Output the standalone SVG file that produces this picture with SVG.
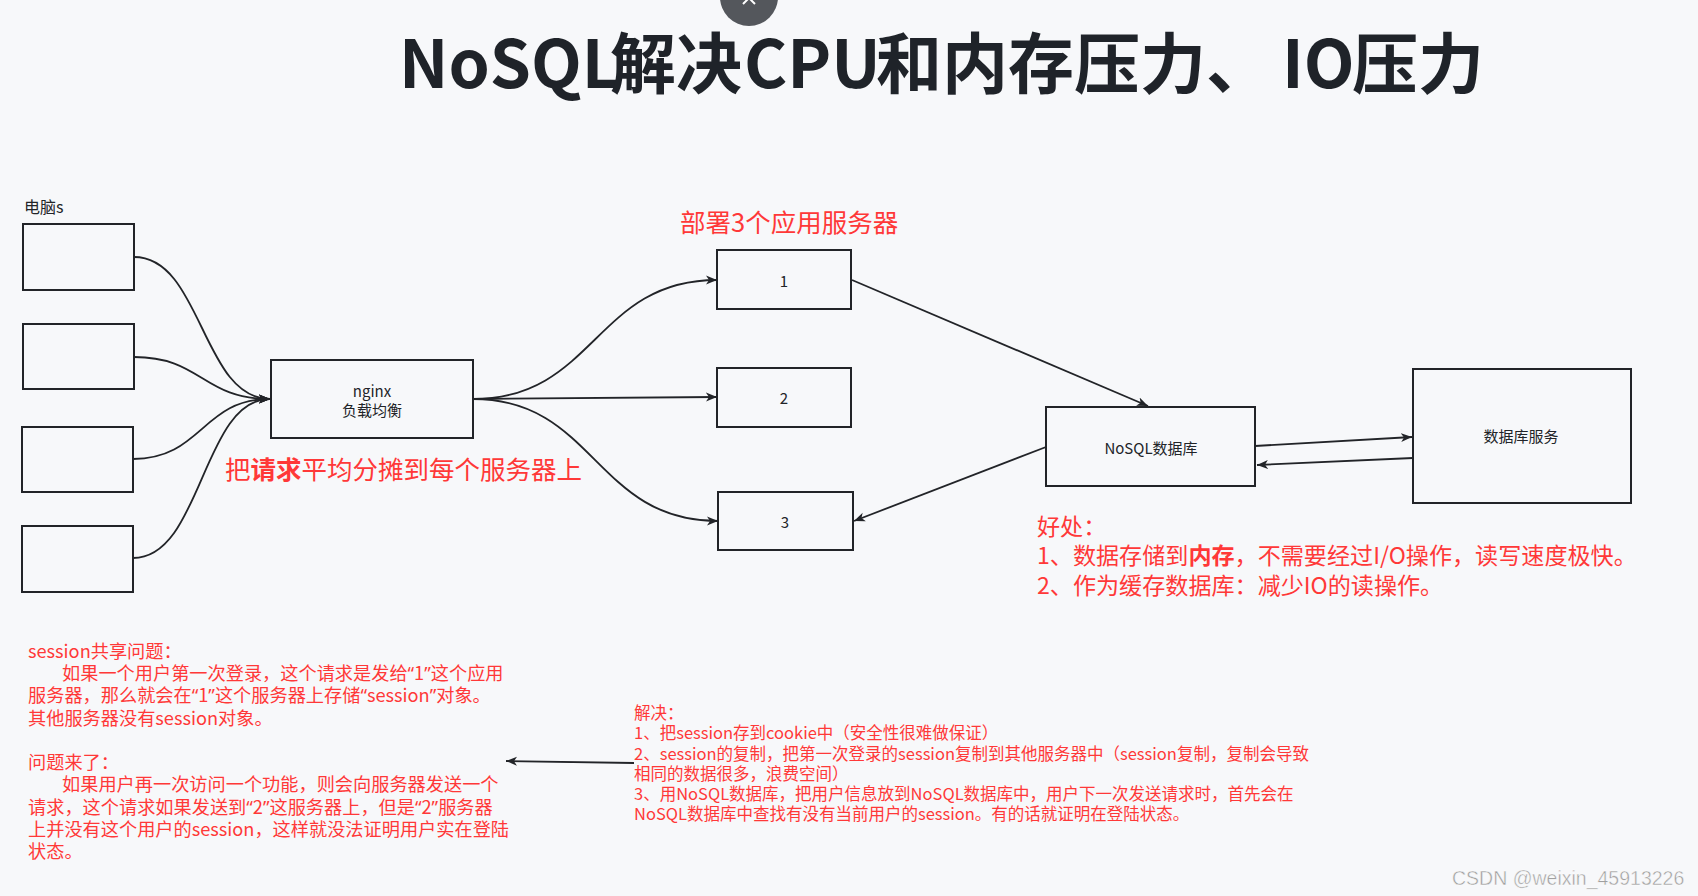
<svg xmlns="http://www.w3.org/2000/svg" width="1698" height="896" viewBox="0 0 1698 896">
<style>
.box{fill:#f7f8fa;stroke:#222428;stroke-width:2}
.edge{fill:none;stroke:#222428;stroke-width:1.8}
.lbl{font-family:"Noto Sans CJK SC","Noto Sans",sans-serif;font-size:15px;fill:#222428}
.red{font-family:"Noto Sans CJK SC","Noto Sans",sans-serif;fill:#ff3838}
.title{font-family:"Noto Sans CJK SC","Noto Sans",sans-serif;font-size:66px;font-weight:700;fill:#1f2329}
.q{font-family:"Noto Sans",sans-serif}
</style>
<defs>
<marker id="arr" markerUnits="userSpaceOnUse" markerWidth="12" markerHeight="10" viewBox="0 0 12 10" refX="11" refY="5" orient="auto">
<path d="M0,0.5 L11,5 L0,9.5 L3,5 Z" fill="#222428"/>
</marker>
</defs>
<rect width="1698" height="896" fill="#f7f8fa"/>
<g id="close-btn">
<circle cx="749" cy="-3" r="29" fill="#54575c"/>
<path d="M743,-8 L755,4 M755,-8 L743,4" stroke="#ffffff" stroke-width="2"/>
</g>
<text class="title" y="88"><tspan x="399">NoSQL</tspan><tspan x="610">解决</tspan><tspan x="744">CPU</tspan><tspan x="876">和内存压力</tspan><tspan x="1206">、</tspan><tspan x="1282">IO</tspan><tspan x="1352">压力</tspan></text>
<text class="lbl" x="24" y="213" style="font-size:16px">电脑s</text>
<g id="pc1"><rect class="box" x="23" y="224" width="111" height="66"/></g>
<g id="pc2"><rect class="box" x="23" y="324" width="111" height="65"/></g>
<g id="pc3"><rect class="box" x="22" y="427" width="111" height="65"/></g>
<g id="pc4"><rect class="box" x="22" y="526" width="111" height="66"/></g>
<g id="nginx"><rect class="box" x="271" y="360" width="202" height="78"/>
<text class="lbl" x="372" y="397" text-anchor="middle">nginx</text>
<text class="lbl" x="372" y="416" text-anchor="middle">负载均衡</text></g>
<text class="red" x="680" y="232" style="font-size:25.5px">部署3个应用服务器</text>
<g id="server1"><rect class="box" x="717" y="250" width="134" height="59"/><text class="lbl" x="784" y="287" text-anchor="middle">1</text></g>
<g id="server2"><rect class="box" x="717" y="368" width="134" height="59"/><text class="lbl" x="784" y="404" text-anchor="middle">2</text></g>
<g id="server3"><rect class="box" x="718" y="492" width="135" height="58"/><text class="lbl" x="785" y="528" text-anchor="middle">3</text></g>
<g id="nosql"><rect class="box" x="1046" y="407" width="209" height="79"/><text class="lbl" x="1151" y="454" text-anchor="middle">NoSQL数据库</text></g>
<g id="dbservice"><rect class="box" x="1413" y="369" width="218" height="134"/><text class="lbl" x="1521" y="442" text-anchor="middle">数据库服务</text></g>
<g id="connectors">
<path class="edge" marker-end="url(#arr)" d="M134,257 C202,257 202,399 270,399"/>
<path class="edge" marker-end="url(#arr)" d="M134,357 C202,357 202,399 270,399"/>
<path class="edge" marker-end="url(#arr)" d="M133,459 C202,459 202,399 270,399"/>
<path class="edge" marker-end="url(#arr)" d="M133,558 C202,558 202,399 270,399"/>
<path class="edge" marker-end="url(#arr)" d="M473,399 C595,399 595,280 717,280"/>
<path class="edge" marker-end="url(#arr)" d="M473,399 L717,397"/>
<path class="edge" marker-end="url(#arr)" d="M473,399 C595,399 595,521 718,521"/>
<path class="edge" marker-end="url(#arr)" d="M852,280 L1148,406"/>
<path class="edge" marker-end="url(#arr)" d="M1046,447 L854,521"/>
<path class="edge" marker-end="url(#arr)" d="M1255,446 L1412,437"/>
<path class="edge" marker-end="url(#arr)" d="M1413,458 L1257,465"/>
<path class="edge" marker-end="url(#arr)" d="M634,763 L506,761"/>
</g>
<text class="red" x="225" y="479" style="font-size:25.5px">把<tspan font-weight="700">请求</tspan>平均分摊到每个服务器上</text>
<g class="red" style="font-size:23.1px">
<text x="1037" y="535">好处：</text>
<text x="1037" y="564">1、数据存储到<tspan font-weight="700">内存</tspan>，不需要经过I/O操作，读写速度极快。</text>
<text x="1037" y="594">2、作为缓存数据库：减少IO的读操作。</text>
</g>
<g class="red" style="font-size:18.2px">
<text x="28" y="658">session共享问题：</text>
<text x="62" y="680">如果一个用户第一次登录，这个请求是发给<tspan class="q">“</tspan>1<tspan class="q">”</tspan>这个应用</text>
<text x="28" y="702">服务器，那么就会在<tspan class="q">“</tspan>1<tspan class="q">”</tspan>这个服务器上存储<tspan class="q">“</tspan>session<tspan class="q">”</tspan>对象。</text>
<text x="28" y="725">其他服务器没有session对象。</text>
<text x="28" y="769">问题来了：</text>
<text x="62" y="791">如果用户再一次访问一个功能，则会向服务器发送一个</text>
<text x="28" y="814">请求，这个请求如果发送到<tspan class="q">“</tspan>2<tspan class="q">”</tspan>这服务器上，但是<tspan class="q">“</tspan>2<tspan class="q">”</tspan>服务器</text>
<text x="28" y="836">上并没有这个用户的session，这样就没法证明用户实在登陆</text>
<text x="28" y="858">状态。</text>
</g>
<g class="red" style="font-size:16.5px">
<text x="634" y="719">解决：</text>
<text x="634" y="739">1、把session存到cookie中（安全性很难做保证）</text>
<text x="634" y="760">2、session的复制，把第一次登录的session复制到其他服务器中（session复制，复制会导致</text>
<text x="634" y="780">相同的数据很多，浪费空间）</text>
<text x="634" y="800">3、用NoSQL数据库，把用户信息放到NoSQL数据库中，用户下一次发送请求时，首先会在</text>
<text x="634" y="820">NoSQL数据库中查找有没有当前用户的session。有的话就证明在登陆状态。</text>
</g>
<text x="1452" y="885" style="font-family:'Liberation Sans',Arial,sans-serif;font-size:19.5px;fill:#a0a0a0;stroke:#ffffff;stroke-width:0.4">CSDN @weixin_45913226</text>
</svg>
